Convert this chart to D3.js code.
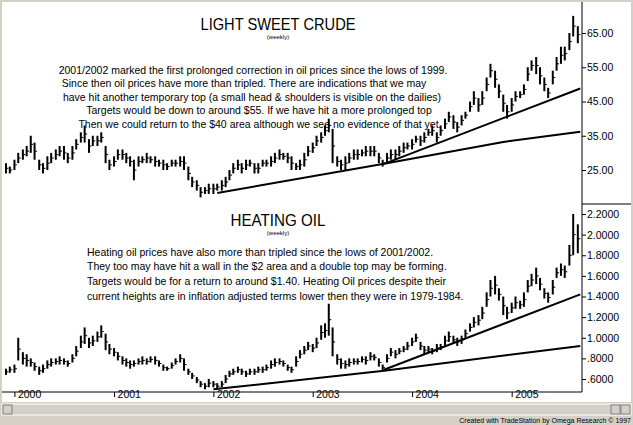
<!DOCTYPE html><html><head><meta charset="utf-8">
<script src="https://cdn.jsdelivr.net/npm/d3@7"></script>
<style>body{margin:0;background:#d4d0c8}svg{display:block}text{font-family:"Liberation Sans",Arial,sans-serif}</style>
</head><body><svg id="c" width="633" height="425"></svg><script>
const startMonth = "1999-12"; // semi-monthly bars (1st & 15th)
const crudeLow = [24,24,
25,27,28,29,30,28,25,24,25,27,28,29,28,27,28,31,33,33,30,32,32,33,27,25,
26,28,28,27,26,22,26,27,27,27,26,26,25,25,26,26,26,25,22,20,19,17,18,18,
18,19,19,20,22,24,25,24,25,26,24,24,26,26,26,27,28,28,27,25,25,25,26,29,
30,32,33,35,36,27,26,25,25,27,28,28,29,29,29,29,27,26,27,28,28,29,30,31,
31,33,32,33,35,35,33,35,37,39,37,36,38,40,42,44,42,44,48,52,49,46,42,40,
42,45,46,47,51,54,53,50,48,46,50,54,56,57,60,64,62];
const crudeHigh = [27,26,
28,30,31,32,35,33,28,27,29,30,31,32,32,30,32,34,36,38,34,35,35,36,32,28,
29,31,31,30,29,28,29,29,30,29,29,28,28,27,28,28,29,29,26,23,22,20,20,21,
21,21,22,23,25,27,28,27,28,28,27,27,28,28,29,30,31,30,30,29,27,28,30,32,
33,35,36,38,40,37,29,28,29,30,31,31,31,32,32,32,30,28,30,31,31,32,33,33,
34,35,35,36,37,38,36,38,40,42,41,39,41,42,45,48,46,48,52,56,54,50,47,44,
46,48,48,50,55,57,58,55,52,49,54,58,61,61,65,70,67];
const heatLow = [0.64,0.66,
0.66,0.78,0.74,0.72,0.72,0.68,0.64,0.66,0.70,0.72,0.74,0.74,0.74,0.72,0.76,0.82,0.90,0.94,0.90,0.92,0.96,1.00,0.88,0.84,
0.82,0.78,0.74,0.72,0.70,0.72,0.74,0.74,0.74,0.76,0.74,0.72,0.68,0.68,0.70,0.74,0.76,0.68,0.64,0.60,0.56,0.52,0.50,0.52,
0.52,0.50,0.52,0.56,0.62,0.64,0.66,0.64,0.62,0.64,0.64,0.66,0.66,0.68,0.70,0.72,0.74,0.72,0.68,0.66,0.72,0.80,0.84,0.88,
0.86,0.90,0.98,1.00,1.02,0.82,0.74,0.70,0.70,0.72,0.74,0.74,0.76,0.74,0.78,0.78,0.72,0.68,0.76,0.82,0.80,0.84,0.86,0.88,
0.92,0.96,0.88,0.84,0.86,0.84,0.86,0.88,0.92,0.96,0.94,0.92,0.94,1.00,1.06,1.10,1.12,1.18,1.30,1.40,1.42,1.36,1.22,1.18,
1.24,1.28,1.28,1.30,1.44,1.50,1.52,1.46,1.38,1.34,1.42,1.58,1.60,1.58,1.70,1.80,1.82];
const heatHigh = [0.70,0.72,
0.74,1.00,0.86,0.84,0.80,0.76,0.72,0.74,0.78,0.80,0.80,0.82,0.80,0.78,0.84,0.92,1.02,1.10,1.00,1.02,1.06,1.12,1.04,0.94,
0.90,0.86,0.82,0.80,0.78,0.78,0.80,0.82,0.80,0.82,0.82,0.78,0.74,0.72,0.76,0.80,0.84,0.80,0.70,0.66,0.62,0.58,0.56,0.60,
0.58,0.56,0.58,0.64,0.68,0.70,0.72,0.70,0.68,0.70,0.70,0.72,0.72,0.74,0.78,0.80,0.80,0.78,0.74,0.72,0.82,0.88,0.92,0.96,
0.94,1.00,1.12,1.14,1.33,1.10,0.84,0.80,0.78,0.80,0.80,0.80,0.82,0.82,0.86,0.84,0.80,0.74,0.84,0.90,0.88,0.90,0.92,0.96,
1.00,1.04,0.96,0.92,0.92,0.90,0.94,0.94,1.02,1.06,1.02,1.00,1.02,1.08,1.14,1.20,1.22,1.30,1.44,1.56,1.60,1.48,1.40,1.30,
1.34,1.40,1.36,1.44,1.56,1.62,1.68,1.58,1.48,1.44,1.56,1.68,1.72,1.70,1.90,2.20,2.10];
const crudeTicks = [25,35,45,55,65];
const heatTicks = [0.6,0.8,1.0,1.2,1.4,1.6,1.8,2.0,2.2];
const crudeTrends = [[["2002-01-15",18.3],["2003-09-20",26.8]],[["2003-09-20",26.8],["2005-09-10",48.8]],[["2003-09-20",26.8],["2004-12-01",33.2],["2005-09-10",36.2]]];
const heatTrends = [[["2002-01-01",0.50],["2003-09-20",0.68],["2005-09-10",0.92]],[["2003-09-20",0.69],["2005-09-10",1.42]]];
const years = ["2000","2001","2002","2003","2004","2005"];
const crudeText = ["2001/2002 marked the first prolonged correction in oil prices since the lows of 1999.","Since then oil prices have more than tripled. There are indications that we may","have hit another temporary top (a small head & shoulders is visible on the dailies)","Targets would be down to around $55. If we have hit a more prolonged top","Then we could return to the $40 area although we see no evidence of that yet."];
const heatText = ["Heating oil prices have also more than tripled since the lows of 2001/2002.","They too may have hit a wall in the $2 area and a double top may be forming.","Targets would be for a return to around $1.40. Heating Oil prices despite their","current heights are in inflation adjusted terms lower then they were in 1979-1984."];

const svg = d3.select("#c");
const pd = d3.timeParse("%Y-%m-%d");
const m0 = pd(startMonth+"-01");
const dates = crudeLow.map((_,i)=>d3.timeDay.offset(d3.timeMonth.offset(m0,Math.floor(i/2)),i%2?14:0));
const x = d3.scaleTime().domain([pd("1999-11-20"),pd("2005-09-09")]).range([3,580]);
const yC = d3.scaleLinear().domain([25,65]).range([170,33]);
const yH = d3.scaleLinear().domain([0.6,2.2]).range([379,214]);

svg.append("rect").attr("x",2).attr("y",2).attr("width",629).attr("height",400).attr("fill","#fff");
svg.append("line").attr("x1",582).attr("x2",582).attr("y1",2).attr("y2",392).attr("stroke","#000");
svg.append("line").attr("x1",582).attr("x2",631).attr("y1",204).attr("y2",204).attr("stroke","#000");
svg.append("line").attr("x1",2).attr("x2",582).attr("y1",392).attr("y2",392).attr("stroke","#000");

function panel(lo,hi,y,ticks,fmt,trends){
  const g=svg.append("g");
  g.selectAll("line.b").data(lo).join("line").attr("stroke","#000").attr("stroke-width",2)
    .attr("x1",(d,i)=>x(dates[i])).attr("x2",(d,i)=>x(dates[i])).attr("y1",d=>y(d)).attr("y2",(d,i)=>y(hi[i]));
  g.selectAll("line.c").data(lo).join("line").attr("stroke","#000")
    .attr("x1",(d,i)=>x(dates[i])).attr("x2",(d,i)=>x(dates[i])+2.5).attr("y1",(d,i)=>y((d+hi[i])/2)).attr("y2",(d,i)=>y((d+hi[i])/2));
  const ln=d3.line().x(d=>x(pd(d[0]))).y(d=>y(d[1]));
  trends.forEach(t=>g.append("path").attr("d",ln(t)).attr("fill","none").attr("stroke","#000").attr("stroke-width",2));
  const ax=svg.append("g").attr("transform","translate(582,0)").call(d3.axisRight(y).tickValues(ticks).tickSize(4).tickFormat(fmt));
  ax.select(".domain").remove();
  ax.selectAll("text").attr("font-size",10.5).attr("x",5);
}
panel(crudeLow,crudeHigh,yC,crudeTicks,d3.format(".2f"),crudeTrends);
panel(heatLow,heatHigh,yH,heatTicks,d=>d3.format(".4f")(d).replace(/^0/,""),heatTrends);

const xa=svg.append("g").attr("transform","translate(0,392)").call(d3.axisBottom(x).tickValues(years.map(y=>pd(y+"-01-01"))).tickSize(5).tickFormat(d3.timeFormat("%Y")));
xa.select(".domain").remove();
xa.selectAll("text").attr("font-size",10.5).attr("text-anchor","start").attr("dx",3).attr("dy",-2);

function title(t,cx,cy,w){
  svg.append("text").attr("x",cx).attr("y",cy).attr("text-anchor","middle").attr("font-size",17).attr("textLength",w).attr("lengthAdjust","spacingAndGlyphs").text(t);
  svg.append("text").attr("x",cx).attr("y",cy+9).attr("text-anchor","middle").attr("font-size",6).text("(weekly)");
}
title("LIGHT SWEET CRUDE",278,30,155);
title("HEATING OIL",278,226,95);
const cxs=[253,244,252,259,260], cys=[70,83,97,110,124];
crudeText.forEach((t,i)=>svg.append("text").attr("x",cxs[i]).attr("y",cys[i]+4).attr("text-anchor","middle").attr("font-size",10.5).text(t));
const hys=[252,266,281,296];
heatText.forEach((t,i)=>svg.append("text").attr("x",87).attr("y",hys[i]+4).attr("font-size",10.5).text(t));

// scrollbar
svg.append("rect").attr("x",2).attr("y",404).attr("width",629).attr("height",11).attr("fill","#d4d0c8").attr("stroke","#fff");
[[3,404],[611,404],[621,404]].forEach(p=>svg.append("rect").attr("x",p[0]).attr("y",p[1]+1).attr("width",9).attr("height",9).attr("fill","#d4d0c8").attr("stroke","#808080"));
svg.append("text").attr("x",631).attr("y",423).attr("text-anchor","end").attr("font-size",7).text("Created with TradeStation by Omega Research © 1997");
</script></body></html>
